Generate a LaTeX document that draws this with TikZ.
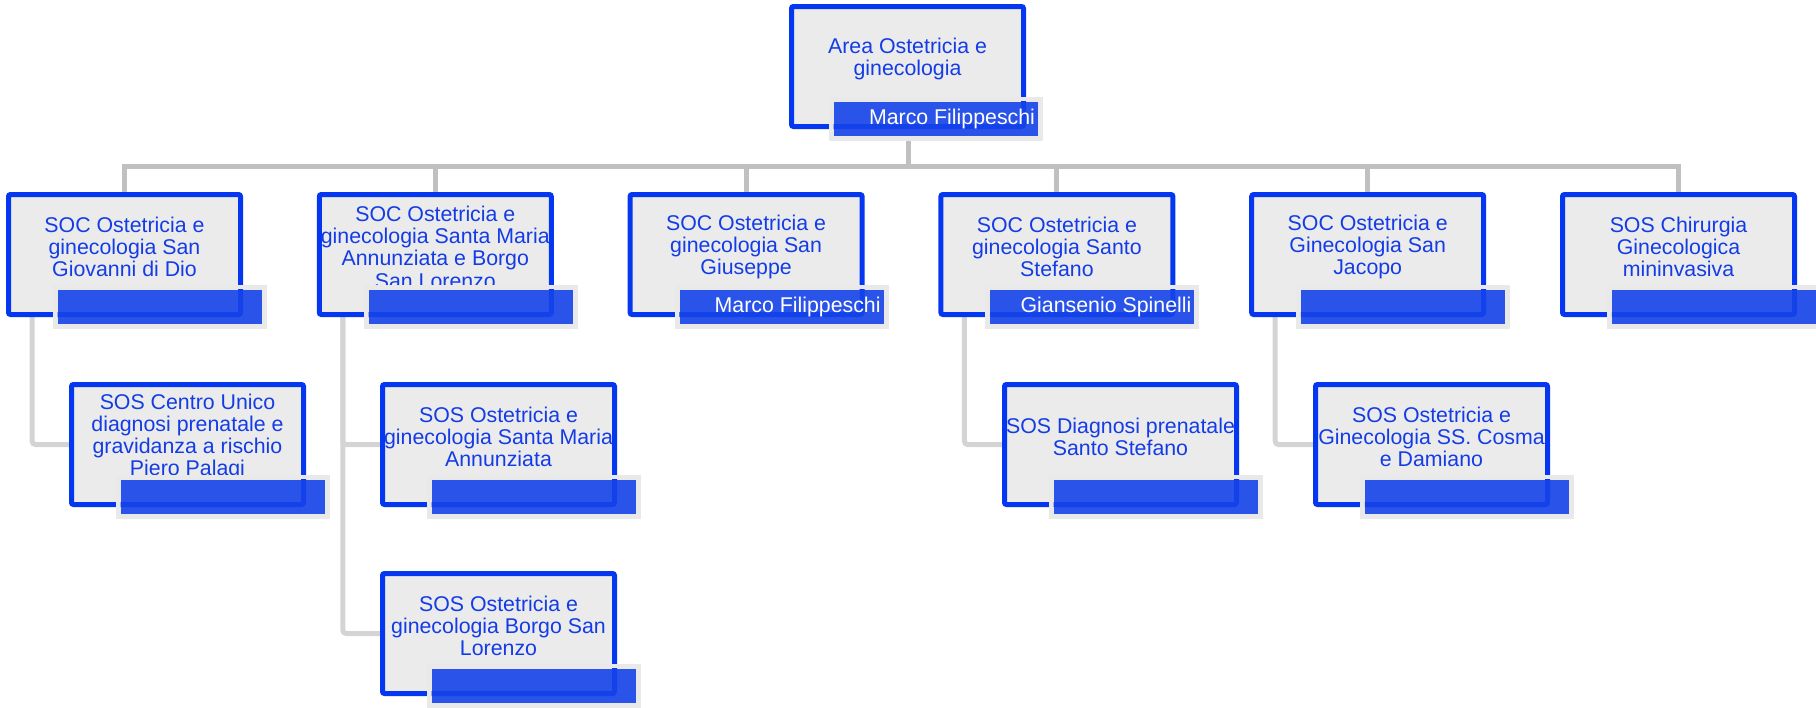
\documentclass[tikz,border=0pt]{standalone}
\usepackage{fontspec}
\setmainfont{Liberation Sans}
\usetikzlibrary{backgrounds}
\definecolor{bxblue}{RGB}{5,55,240}
\definecolor{bxfill}{RGB}{235,235,235}
\definecolor{txblue}{RGB}{20,60,230}
\definecolor{barblue}{RGB}{22,68,234}
\definecolor{frgray}{RGB}{233,233,233}
\definecolor{lnone}{RGB}{192,192,192}
\definecolor{lntwo}{RGB}{212,212,212}
\tikzset{
  unitbox/.style={draw=bxblue, fill=bxfill, line width=3.75pt, rounded corners=1.5pt,
    minimum width=174pt, minimum height=90pt, inner sep=0pt},
  unittext/.style={text=txblue, align=center, inner sep=0pt,
    font=\fontsize{16}{16.7}\selectfont},
  nameframe/.style={fill=frgray, minimum width=160.5pt, minimum height=33pt, inner sep=0pt},
  namebar/.style={fill=barblue, fill opacity=0.9, minimum width=153pt, minimum height=25.5pt, inner sep=0pt},
  persontext/.style={text=white, inner sep=0pt, font=\fontsize{16}{16.7}\selectfont},
  trunk/.style={draw=lnone, line width=3.75pt},
  branch/.style={draw=lntwo, line width=3.75pt, rounded corners=2.5pt},
}
% #1 name, #2 left, #3 top, #4 text, #5 person, #6 frame x offset
\newcommand\orgunit[6]{%
  \node[unitbox] (#1) at (#2+118.5,#3+62.5) {};
  \begin{scope}
    \clip ([shift={(5,5)}]#1.north west) rectangle ([shift={(-5,-5)}]#1.south east);
    \node[unittext] (#1t) at (#2+118.5,#3+55) {#4};
  \end{scope}
  \node[nameframe] (#1f) at (#2+#6+107,#3+115) {};
  \begin{scope}
    \clip ([shift={(5,5)}]#1f.north west) rectangle ([shift={(-5,-5)}]#1f.south east);
    \draw[bxblue, line width=3.75pt, rounded corners=1.5pt] ([shift={(2.5,2.5)}]#1.north west) rectangle ([shift={(-2.5,-2.5)}]#1.south east);
  \end{scope}
  \node[namebar] (#1b) at (#2+#6+107,#3+115) {};
  \node[persontext, anchor=east] (#1p) at ([shift={(-3,0)}]#1b.east) {#5};
}
\begin{document}
\begin{tikzpicture}[x=0.75pt,y=-0.75pt]
\useasboundingbox (0,0) rectangle (1816,707);
% units
\orgunit{top}{789}{4}{Area Ostetricia e\\ginecologia}{Marco Filippeschi}{40}
\orgunit{soc1}{6}{192}{SOC Ostetricia e\\ginecologia San\\Giovanni di Dio}{}{47}
\orgunit{soc2}{316.8}{192}{SOC Ostetricia e\\ginecologia Santa Maria\\Annunziata e Borgo\\San Lorenzo}{}{47}
\orgunit{soc3}{627.6}{192}{SOC Ostetricia e\\ginecologia San\\Giuseppe}{Marco Filippeschi}{47}
\orgunit{soc4}{938.4}{192}{SOC Ostetricia e\\ginecologia Santo\\Stefano}{Giansenio Spinelli}{47}
\orgunit{soc5}{1249.2}{192}{SOC Ostetricia e\\Ginecologia San\\Jacopo}{}{47}
\orgunit{soc6}{1560}{192}{SOS Chirurgia\\Ginecologica\\mininvasiva}{}{47}
\orgunit{sos1}{69}{382}{SOS Centro Unico\\diagnosi prenatale e\\gravidanza a rischio\\Piero Palagi}{}{47}
\orgunit{sos2a}{380}{382}{SOS Ostetricia e\\ginecologia Santa Maria\\Annunziata}{}{47}
\orgunit{sos2b}{380}{571}{SOS Ostetricia e\\ginecologia Borgo San\\Lorenzo}{}{47}
\orgunit{sos4}{1002}{382}{SOS Diagnosi prenatale\\Santo Stefano}{}{47}
\orgunit{sos5}{1313}{382}{SOS Ostetricia e\\Ginecologia SS. Cosma\\e Damiano}{}{47}
% connectors behind the units
\coordinate (hub) at (908,166);
\begin{scope}[on background layer]
  \draw[trunk] ([shift={(0.5,0)}]top.south) -- (hub);
  \foreach \n in {soc1,soc2,soc3,soc4,soc5,soc6}{ \draw[trunk] (hub) -| (\n.north); }
  \draw[branch] ([shift={(26,0)}]soc1.south west) |- (sos1.west);
  \draw[branch] ([shift={(26,0)}]soc2.south west) |- (sos2a.west);
  \draw[branch] ([shift={(26,0)}]soc2.south west) |- (sos2b.west);
  \draw[branch] ([shift={(26,0)}]soc4.south west) |- (sos4.west);
  \draw[branch] ([shift={(26,0)}]soc5.south west) |- (sos5.west);
\end{scope}
\end{tikzpicture}
\end{document}
